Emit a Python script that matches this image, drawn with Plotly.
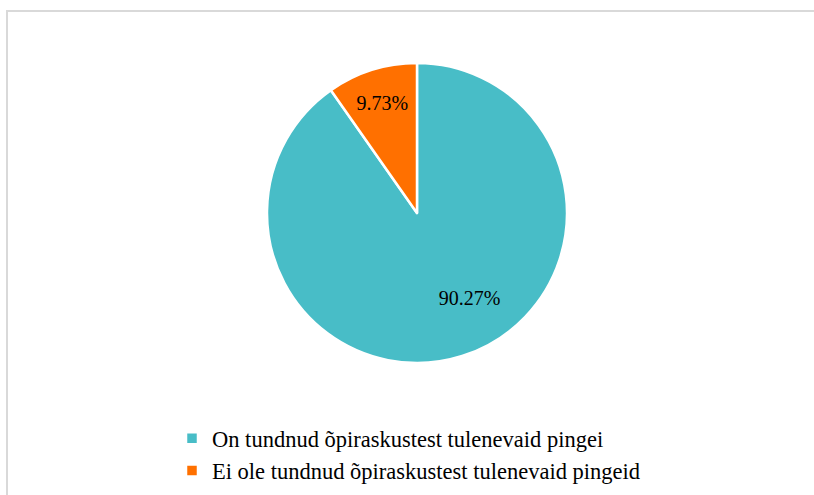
import plotly.graph_objects as go

labels = ["On tundnud õpiraskustest tulenevaid pingei",
          "Ei ole tundnud õpiraskustest tulenevaid pingeid"]
values = [90.27, 9.73]
text_labels = ["90.27%", "9.73%"]
colors = ["#48BDC7", "#FF7000"]

W, H = 814, 495
# nudge the big slice's label toward where the reference places it
shown_text = ["\u00a0<br>" + "\u00a0" * 12 + text_labels[0], text_labels[1]]

fig = go.Figure(go.Pie(
    labels=labels, values=values, text=shown_text,
    textinfo="text", textposition="inside", insidetextorientation="horizontal",
    sort=False, direction="clockwise", rotation=0,
    marker=dict(colors=colors, line=dict(color="white", width=2.5)),
    textfont=dict(family="Liberation Serif", size=20, color="black"),
    domain=dict(x=[267 / W, 567 / W], y=[(H - 363) / H, (H - 63) / H]),
    hoverinfo="label+percent",
))

fig.update_layout(
    width=W, height=H,
    margin=dict(l=0, r=0, t=0, b=0),
    paper_bgcolor="white", plot_bgcolor="white",
    showlegend=True,
    legend=dict(x=172 / W, y=1 - 417 / H, xanchor="left", yanchor="top",
                font=dict(family="Liberation Serif", size=22.5, color="black"),
                bgcolor="rgba(0,0,0,0)"),
    shapes=[dict(type="path", xref="paper", yref="paper",
                 path=f"M {7/W} 0 L {7/W} {1-11/H} L 1 {1-11/H}",
                 line=dict(color="#D9D9D9", width=2))],
)
fig.write_html("out.html", config={"displayModeBar": False},
               post_script="document.body.style.margin='0';")
